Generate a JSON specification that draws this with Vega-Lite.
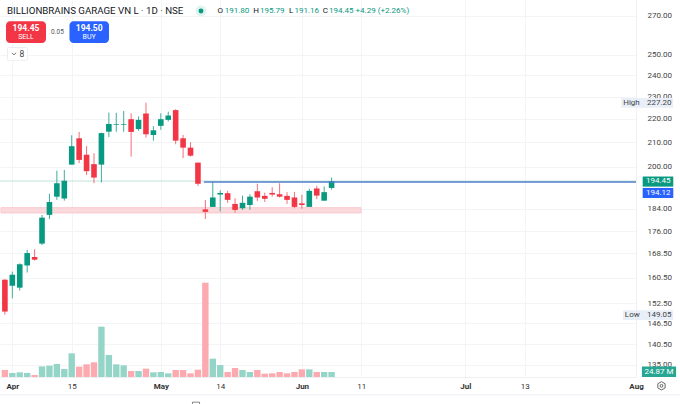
{"$schema":"https://vega.github.io/schema/vega-lite/v6.json","width":636,"height":377,"autosize":"none","padding":{"left":0,"top":0,"right":44,"bottom":27},"background":"white","config":{"view":{"stroke":null},"font":"Roboto","text":{"font":"Roboto"},"scale":{"continuousPadding":0}},
"datasets":{"bars":[
{"i":0,"o":159.8,"h":160.0,"l":149.05,"c":150.0,"v":34.8},{"i":1,"o":157.9,"h":162.4,"l":154.0,"c":161.4,"v":19.9},{"i":2,"o":157.3,"h":165.1,"l":156.4,"c":164.8,"v":23.2},{"i":3,"o":164.4,"h":169.6,"l":162.1,"c":168.5,"v":19.9},{"i":4,"o":167.2,"h":169.8,"l":166.0,"c":166.3,"v":9.9},{"i":5,"o":171.7,"h":181.8,"l":171.2,"c":180.8,"v":53},{"i":6,"o":181.8,"h":189.6,"l":180.3,"c":186.5,"v":56.4},{"i":7,"o":188.5,"h":198.5,"l":187.3,"c":193.6,"v":64.7},{"i":8,"o":187.8,"h":198.8,"l":187.0,"c":194.6,"v":39.8},{"i":9,"o":200.9,"h":213.0,"l":200.9,"c":208.4,"v":117.7},
{"i":10,"o":211.7,"h":214.4,"l":201.5,"c":202.8,"v":51.4},{"i":11,"o":204.9,"h":208.5,"l":196.8,"c":198.3,"v":63},{"i":12,"o":201.1,"h":205.5,"l":193.6,"c":195.8,"v":73},{"i":13,"o":200.9,"h":214.1,"l":193.9,"c":213.9,"v":250.4},{"i":14,"o":214.5,"h":222.8,"l":212.2,"c":217.8,"v":109.4},{"i":15,"o":217.5,"h":222.7,"l":214.5,"c":217.8,"v":63},{"i":16,"o":217.5,"h":223.5,"l":214.5,"c":217.8,"v":58},{"i":17,"o":219.9,"h":222.5,"l":204.1,"c":214.4,"v":29.8},{"i":18,"o":215.6,"h":221.1,"l":214.9,"c":219.6,"v":29.8},{"i":19,"o":222.4,"h":227.2,"l":212.0,"c":213.4,"v":41.5},
{"i":20,"o":213.1,"h":216.9,"l":210.7,"c":215.1,"v":23.2},{"i":21,"o":217.0,"h":222.5,"l":215.3,"c":219.9,"v":24.9},{"i":22,"o":219.6,"h":223.2,"l":218.9,"c":221.5,"v":18.2},{"i":23,"o":223.9,"h":224.3,"l":209.2,"c":210.7,"v":34.8},{"i":24,"o":211.7,"h":213.1,"l":203.5,"c":207.8,"v":34.8},{"i":25,"o":207.8,"h":210.0,"l":204.1,"c":204.5,"v":18.2},{"i":26,"o":201.7,"h":201.7,"l":192.6,"c":193.4,"v":36.5},{"i":27,"o":183.8,"h":187.3,"l":180.3,"c":182.9,"v":469},{"i":28,"o":184.7,"h":194.2,"l":184.7,"c":188.2,"v":91.2},{"i":29,"o":189.3,"h":190.9,"l":183.0,"c":189.9,"v":59.7},
{"i":30,"o":189.8,"h":190.7,"l":186.2,"c":187.3,"v":24.9},{"i":31,"o":185.8,"h":187.9,"l":182.6,"c":183.6,"v":44.8},{"i":32,"o":184.2,"h":188.9,"l":183.6,"c":186.2,"v":34.8},{"i":33,"o":185.4,"h":189.4,"l":183.6,"c":188.5,"v":24.9},{"i":34,"o":190.5,"h":193.4,"l":186.9,"c":188.2,"v":34.8},{"i":35,"o":188.8,"h":190.0,"l":186.5,"c":187.7,"v":16.6},{"i":36,"o":189.9,"h":192.1,"l":188.5,"c":189.3,"v":18.2},{"i":37,"o":189.4,"h":193.6,"l":188.2,"c":188.5,"v":24.9},{"i":38,"o":188.8,"h":190.2,"l":185.8,"c":187.3,"v":18.2},{"i":39,"o":188.2,"h":190.3,"l":184.2,"c":184.7,"v":24.9},
{"i":40,"o":186.0,"h":189.2,"l":184.0,"c":185.4,"v":38.1},{"i":41,"o":184.7,"h":191.5,"l":184.7,"c":190.7,"v":38.1},{"i":42,"o":191.6,"h":192.6,"l":187.6,"c":188.9,"v":24.9},{"i":43,"o":187.0,"h":192.4,"l":187.0,"c":190.2,"v":24.9},{"i":44,"o":191.8,"h":195.79,"l":191.16,"c":194.45,"v":24.87}]},
"layer":[
{"data":{"name":"bars"},"mark":{"type":"bar","orient":"vertical","size":6.4},"encoding":{"x":{"field":"i","type":"quantitative","scale":{"domain":[-0.66,85],"nice":false,"zero":false},"axis":{"title":null,"orient":"bottom","values":[1,9,21,29,40,48,62,70,85],"labelExpr":"{'1':'Apr','9':'15','21':'May','29':'14','40':'Jun','48':'11','62':'Jul','70':'13','85':'Aug'}[datum.value]","labelFontWeight":{"condition":{"test":"datum.value==1||datum.value==21||datum.value==40||datum.value==62||datum.value==85","value":"bold"},"value":"normal"},"labelColor":"#333333","labelFontSize":8,"labelFont":"Roboto","labelPadding":5,"labelOverlap":false,"labelBound":false,"labelFlush":false,"ticks":false,"domainColor":"#eef0f3","grid":true,"gridColor":"#f3f4f6","gridWidth":1}},"y":{"field":"v","type":"quantitative","stack":null,"scale":{"domain":[0,1875],"nice":false},"axis":null},"color":{"condition":{"test":"datum.c>=datum.o","value":"#95d5c8"},"value":"#fca9b0"}}},
{"layer":[
{"data":{"values":[{"z":"zone"}]},"mark":{"type":"rect","fill":"#fbdadd","stroke":"#f9c8cc","strokeWidth":1},"encoding":{"x":{"datum":-0.53,"scale":{"domain":[-0.66,85],"nice":false,"zero":false}},"x2":{"datum":47.96},"y":{"datum":184.4,"scale":{"type":"log","domain":[131.7,278.7],"nice":false},"axis":{"title":null,"orient":"right","values":[135,140.5,146.5,152.5,160.5,168.5,176,184,200,210,220,230,240,250,270],"format":".2f","labelColor":"#444444","labelFontSize":8,"labelFont":"Roboto","labelPadding":11,"labelOverlap":false,"labelBound":false,"ticks":false,"domainColor":"#eef0f3","grid":true,"gridColor":"#f3f4f6","gridWidth":1}},"y2":{"datum":182.5}}},
{"data":{"values":[{"z":"last"}]},"mark":{"type":"rule","color":"#bfe3dc","strokeWidth":1},"encoding":{"x":{"datum":-0.66,"scale":{"domain":[-0.66,85],"nice":false,"zero":false}},"x2":{"datum":85},"y":{"datum":194.45,"scale":{"type":"log","domain":[131.7,278.7],"nice":false}}}},
{"data":{"name":"bars"},"mark":{"type":"rule","strokeWidth":1},"encoding":{"x":{"field":"i","type":"quantitative","scale":{"domain":[-0.66,85],"nice":false,"zero":false}},"y":{"field":"l","type":"quantitative","scale":{"type":"log","domain":[131.7,278.7],"nice":false}},"y2":{"field":"h"},"color":{"condition":{"test":"datum.c>=datum.o","value":"#3fae9b"},"value":"#f56f7c"}}},
{"data":{"name":"bars"},"mark":{"type":"bar","orient":"vertical","size":5.6},"encoding":{"x":{"field":"i","type":"quantitative","scale":{"domain":[-0.66,85],"nice":false,"zero":false}},"y":{"field":"o","type":"quantitative","scale":{"type":"log","domain":[131.7,278.7],"nice":false}},"y2":{"field":"c"},"color":{"condition":{"test":"datum.c>=datum.o","value":"#089981"},"value":"#f23645"}}},
{"data":{"values":[{"z":"line"}]},"mark":{"type":"rule","color":"#4f7fc9","strokeWidth":1.5},"encoding":{"x":{"datum":26.8,"scale":{"domain":[-0.66,85],"nice":false,"zero":false}},"x2":{"datum":85},"y":{"datum":194.12,"scale":{"type":"log","domain":[131.7,278.7],"nice":false}}}},
{"data":{"values":[{"z":"sep"}]},"mark":{"type":"rule","color":"#eceef2","strokeWidth":1},"encoding":{"x":{"datum":-0.66,"scale":{"domain":[-0.66,85],"nice":false,"zero":false}},"x2":{"datum":90.9},"y":{"datum":127.1,"scale":{"type":"log","domain":[131.7,278.7],"nice":false}}}},
{"data":{"values":[{"t":"BILLIONBRAINS GARAGE VN L · 1D · NSE"}]},"mark":{"type":"text","align":"left","fontSize":9.7,"color":"#131722"},"encoding":{"text":{"field":"t"},"x":{"datum":0.283,"scale":{"domain":[-0.66,85],"nice":false,"zero":false}},"y":{"datum":272.7,"scale":{"type":"log","domain":[131.7,278.7],"nice":false}}}},
{"data":{"values":[{"z":"halo"}]},"mark":{"type":"point","filled":true,"size":120,"color":"#dff3ef","opacity":1},"encoding":{"x":{"datum":26.41,"scale":{"domain":[-0.66,85],"nice":false,"zero":false}},"y":{"datum":272.7,"scale":{"type":"log","domain":[131.7,278.7],"nice":false}}}},
{"data":{"values":[{"z":"dot"}]},"mark":{"type":"point","filled":true,"size":24,"color":"#089981","opacity":1},"encoding":{"x":{"datum":26.41,"scale":{"domain":[-0.66,85],"nice":false,"zero":false}},"y":{"datum":272.7,"scale":{"type":"log","domain":[131.7,278.7],"nice":false}}}},
{"data":{"values":[{"t":"O"}]},"mark":{"type":"text","align":"left","fontSize":8,"color":"#131722"},"encoding":{"text":{"field":"t"},"x":{"datum":28.63,"scale":{"domain":[-0.66,85],"nice":false,"zero":false}},"y":{"datum":272.7,"scale":{"type":"log","domain":[131.7,278.7],"nice":false}}}},
{"data":{"values":[{"t":"191.80"}]},"mark":{"type":"text","align":"left","fontSize":8,"color":"#089981"},"encoding":{"text":{"field":"t"},"x":{"datum":29.6,"scale":{"domain":[-0.66,85],"nice":false,"zero":false}},"y":{"datum":272.7,"scale":{"type":"log","domain":[131.7,278.7],"nice":false}}}},
{"data":{"values":[{"t":"H"}]},"mark":{"type":"text","align":"left","fontSize":8,"color":"#131722"},"encoding":{"text":{"field":"t"},"x":{"datum":33.45,"scale":{"domain":[-0.66,85],"nice":false,"zero":false}},"y":{"datum":272.7,"scale":{"type":"log","domain":[131.7,278.7],"nice":false}}}},
{"data":{"values":[{"t":"195.79"}]},"mark":{"type":"text","align":"left","fontSize":8,"color":"#089981"},"encoding":{"text":{"field":"t"},"x":{"datum":34.36,"scale":{"domain":[-0.66,85],"nice":false,"zero":false}},"y":{"datum":272.7,"scale":{"type":"log","domain":[131.7,278.7],"nice":false}}}},
{"data":{"values":[{"t":"L"}]},"mark":{"type":"text","align":"left","fontSize":8,"color":"#131722"},"encoding":{"text":{"field":"t"},"x":{"datum":38.26,"scale":{"domain":[-0.66,85],"nice":false,"zero":false}},"y":{"datum":272.7,"scale":{"type":"log","domain":[131.7,278.7],"nice":false}}}},
{"data":{"values":[{"t":"191.16"}]},"mark":{"type":"text","align":"left","fontSize":8,"color":"#089981"},"encoding":{"text":{"field":"t"},"x":{"datum":39.0,"scale":{"domain":[-0.66,85],"nice":false,"zero":false}},"y":{"datum":272.7,"scale":{"type":"log","domain":[131.7,278.7],"nice":false}}}},
{"data":{"values":[{"t":"C"}]},"mark":{"type":"text","align":"left","fontSize":8,"color":"#131722"},"encoding":{"text":{"field":"t"},"x":{"datum":42.8,"scale":{"domain":[-0.66,85],"nice":false,"zero":false}},"y":{"datum":272.7,"scale":{"type":"log","domain":[131.7,278.7],"nice":false}}}},
{"data":{"values":[{"t":"194.45 +4.29 (+2.26%)"}]},"mark":{"type":"text","align":"left","fontSize":8,"color":"#089981"},"encoding":{"text":{"field":"t"},"x":{"datum":43.65,"scale":{"domain":[-0.66,85],"nice":false,"zero":false}},"y":{"datum":272.7,"scale":{"type":"log","domain":[131.7,278.7],"nice":false}}}},
{"data":{"values":[{"z":"sell"}]},"mark":{"type":"rect","fill":"#f23645","cornerRadius":4},"encoding":{"x":{"datum":0.148,"scale":{"domain":[-0.66,85],"nice":false,"zero":false}},"x2":{"datum":5.535},"y":{"datum":267.2,"scale":{"type":"log","domain":[131.7,278.7],"nice":false}},"y2":{"datum":255.8}}},
{"data":{"values":[{"z":"buy"}]},"mark":{"type":"rect","fill":"#2962ff","cornerRadius":4},"encoding":{"x":{"datum":8.7,"scale":{"domain":[-0.66,85],"nice":false,"zero":false}},"x2":{"datum":14.02},"y":{"datum":267.2,"scale":{"type":"log","domain":[131.7,278.7],"nice":false}},"y2":{"datum":255.8}}},
{"data":{"values":[{"t":"194.45"}]},"mark":{"type":"text","align":"center","fontSize":8.5,"fontWeight":"bold","color":"#ffffff"},"encoding":{"text":{"field":"t"},"x":{"datum":2.84,"scale":{"domain":[-0.66,85],"nice":false,"zero":false}},"y":{"datum":263.4,"scale":{"type":"log","domain":[131.7,278.7],"nice":false}}}},
{"data":{"values":[{"t":"SELL"}]},"mark":{"type":"text","align":"center","fontSize":7,"color":"#ffffff"},"encoding":{"text":{"field":"t"},"x":{"datum":2.84,"scale":{"domain":[-0.66,85],"nice":false,"zero":false}},"y":{"datum":258.7,"scale":{"type":"log","domain":[131.7,278.7],"nice":false}}}},
{"data":{"values":[{"t":"194.50"}]},"mark":{"type":"text","align":"center","fontSize":8.5,"fontWeight":"bold","color":"#ffffff"},"encoding":{"text":{"field":"t"},"x":{"datum":11.35,"scale":{"domain":[-0.66,85],"nice":false,"zero":false}},"y":{"datum":263.4,"scale":{"type":"log","domain":[131.7,278.7],"nice":false}}}},
{"data":{"values":[{"t":"BUY"}]},"mark":{"type":"text","align":"center","fontSize":7,"color":"#ffffff"},"encoding":{"text":{"field":"t"},"x":{"datum":11.35,"scale":{"domain":[-0.66,85],"nice":false,"zero":false}},"y":{"datum":258.7,"scale":{"type":"log","domain":[131.7,278.7],"nice":false}}}},
{"data":{"values":[{"t":"0.05"}]},"mark":{"type":"text","align":"center","fontSize":6.5,"color":"#555555"},"encoding":{"text":{"field":"t"},"x":{"datum":7.08,"scale":{"domain":[-0.66,85],"nice":false,"zero":false}},"y":{"datum":261.6,"scale":{"type":"log","domain":[131.7,278.7],"nice":false}}}},
{"data":{"values":[{"z":"box"}]},"mark":{"type":"rect","fill":"#ffffff","stroke":"#eceef2","strokeWidth":1,"cornerRadius":1},"encoding":{"x":{"datum":0.35,"scale":{"domain":[-0.66,85],"nice":false,"zero":false}},"x2":{"datum":3.04},"y":{"datum":253.6,"scale":{"type":"log","domain":[131.7,278.7],"nice":false}},"y2":{"datum":247.2}}},
{"data":{"values":[{"z":"chevron"}]},"mark":{"type":"point","shape":"M-1,-0.5L0,0.5L1,-0.5","filled":false,"size":16,"stroke":"#444444","strokeWidth":0.8,"opacity":1},"encoding":{"x":{"datum":1.226,"scale":{"domain":[-0.66,85],"nice":false,"zero":false}},"y":{"datum":250.4,"scale":{"type":"log","domain":[131.7,278.7],"nice":false}}}},
{"data":{"values":[{"t":"8"}]},"mark":{"type":"text","align":"center","fontSize":8.5,"color":"#444444"},"encoding":{"text":{"field":"t"},"x":{"datum":2.3,"scale":{"domain":[-0.66,85],"nice":false,"zero":false}},"y":{"datum":250.4,"scale":{"type":"log","domain":[131.7,278.7],"nice":false}}}},
{"data":{"values":[{"z":"high"}]},"mark":{"type":"rect","fill":"#e9eff9"},"encoding":{"x":{"datum":83.0,"scale":{"domain":[-0.66,85],"nice":false,"zero":false}},"x2":{"datum":90.0},"y":{"datum":229.4,"scale":{"type":"log","domain":[131.7,278.7],"nice":false}},"y2":{"datum":224.9}}},
{"data":{"values":[{"t":"High"}]},"mark":{"type":"text","align":"center","fontSize":8,"color":"#444444"},"encoding":{"text":{"field":"t"},"x":{"datum":84.39,"scale":{"domain":[-0.66,85],"nice":false,"zero":false}},"y":{"datum":227.2,"scale":{"type":"log","domain":[131.7,278.7],"nice":false}}}},
{"data":{"values":[{"t":"227.20"}]},"mark":{"type":"text","align":"center","fontSize":8,"color":"#444444"},"encoding":{"text":{"field":"t"},"x":{"datum":88.14,"scale":{"domain":[-0.66,85],"nice":false,"zero":false}},"y":{"datum":227.2,"scale":{"type":"log","domain":[131.7,278.7],"nice":false}}}},
{"data":{"values":[{"z":"low"}]},"mark":{"type":"rect","fill":"#e9eff9"},"encoding":{"x":{"datum":83.24,"scale":{"domain":[-0.66,85],"nice":false,"zero":false}},"x2":{"datum":90.0},"y":{"datum":150.4,"scale":{"type":"log","domain":[131.7,278.7],"nice":false}},"y2":{"datum":147.5}}},
{"data":{"values":[{"t":"Low"}]},"mark":{"type":"text","align":"center","fontSize":8,"color":"#444444"},"encoding":{"text":{"field":"t"},"x":{"datum":84.5,"scale":{"domain":[-0.66,85],"nice":false,"zero":false}},"y":{"datum":149.05,"scale":{"type":"log","domain":[131.7,278.7],"nice":false}}}},
{"data":{"values":[{"t":"149.05"}]},"mark":{"type":"text","align":"center","fontSize":8,"color":"#444444"},"encoding":{"text":{"field":"t"},"x":{"datum":88.14,"scale":{"domain":[-0.66,85],"nice":false,"zero":false}},"y":{"datum":149.05,"scale":{"type":"log","domain":[131.7,278.7],"nice":false}}}},
{"data":{"values":[{"z":"lastbadge"}]},"mark":{"type":"rect","fill":"#089981"},"encoding":{"x":{"datum":85.9,"scale":{"domain":[-0.66,85],"nice":false,"zero":false}},"x2":{"datum":90.02},"y":{"datum":196.2,"scale":{"type":"log","domain":[131.7,278.7],"nice":false}},"y2":{"datum":192.3}}},
{"data":{"values":[{"t":"194.45"}]},"mark":{"type":"text","align":"center","fontSize":8,"color":"#ffffff"},"encoding":{"text":{"field":"t"},"x":{"datum":88.0,"scale":{"domain":[-0.66,85],"nice":false,"zero":false}},"y":{"datum":194.3,"scale":{"type":"log","domain":[131.7,278.7],"nice":false}}}},
{"data":{"values":[{"z":"bluebadge"}]},"mark":{"type":"rect","fill":"#2962ff"},"encoding":{"x":{"datum":85.9,"scale":{"domain":[-0.66,85],"nice":false,"zero":false}},"x2":{"datum":90.02},"y":{"datum":191.8,"scale":{"type":"log","domain":[131.7,278.7],"nice":false}},"y2":{"datum":188.0}}},
{"data":{"values":[{"t":"194.12"}]},"mark":{"type":"text","align":"center","fontSize":8,"color":"#ffffff"},"encoding":{"text":{"field":"t"},"x":{"datum":88.0,"scale":{"domain":[-0.66,85],"nice":false,"zero":false}},"y":{"datum":189.9,"scale":{"type":"log","domain":[131.7,278.7],"nice":false}}}},
{"data":{"values":[{"z":"volbadge"}]},"mark":{"type":"rect","fill":"#26a693"},"encoding":{"x":{"datum":85.8,"scale":{"domain":[-0.66,85],"nice":false,"zero":false}},"x2":{"datum":90.4},"y":{"datum":134.5,"scale":{"type":"log","domain":[131.7,278.7],"nice":false}},"y2":{"datum":131.7}}},
{"data":{"values":[{"t":"24.87 M"}]},"mark":{"type":"text","align":"center","fontSize":8,"color":"#ffffff"},"encoding":{"text":{"field":"t"},"x":{"datum":88.1,"scale":{"domain":[-0.66,85],"nice":false,"zero":false}},"y":{"datum":133.1,"scale":{"type":"log","domain":[131.7,278.7],"nice":false}}}},
{"data":{"values":[{"z":"settings"}]},"mark":{"type":"point","shape":"M0,-1L0.87,-0.5L0.87,0.5L0,1L-0.87,0.5L-0.87,-0.5Z","filled":false,"size":70,"stroke":"#444444","strokeWidth":0.8,"opacity":1},"encoding":{"x":{"datum":88.43,"scale":{"domain":[-0.66,85],"nice":false,"zero":false}},"y":{"datum":129.4,"scale":{"type":"log","domain":[131.7,278.7],"nice":false}}}},
{"data":{"values":[{"z":"settingsdot"}]},"mark":{"type":"point","shape":"circle","filled":false,"size":8,"stroke":"#444444","strokeWidth":0.8,"opacity":1},"encoding":{"x":{"datum":88.43,"scale":{"domain":[-0.66,85],"nice":false,"zero":false}},"y":{"datum":129.4,"scale":{"type":"log","domain":[131.7,278.7],"nice":false}}}},
{"data":{"values":[{"z":"calendar"}]},"mark":{"type":"point","shape":"square","filled":false,"size":50,"stroke":"#666666","strokeWidth":0.8,"opacity":1},"encoding":{"x":{"datum":25.74,"scale":{"domain":[-0.66,85],"nice":false,"zero":false}},"y":{"datum":124.4,"scale":{"type":"log","domain":[131.7,278.7],"nice":false}}}}
]}],
"resolve":{"scale":{"y":"independent"}}}
